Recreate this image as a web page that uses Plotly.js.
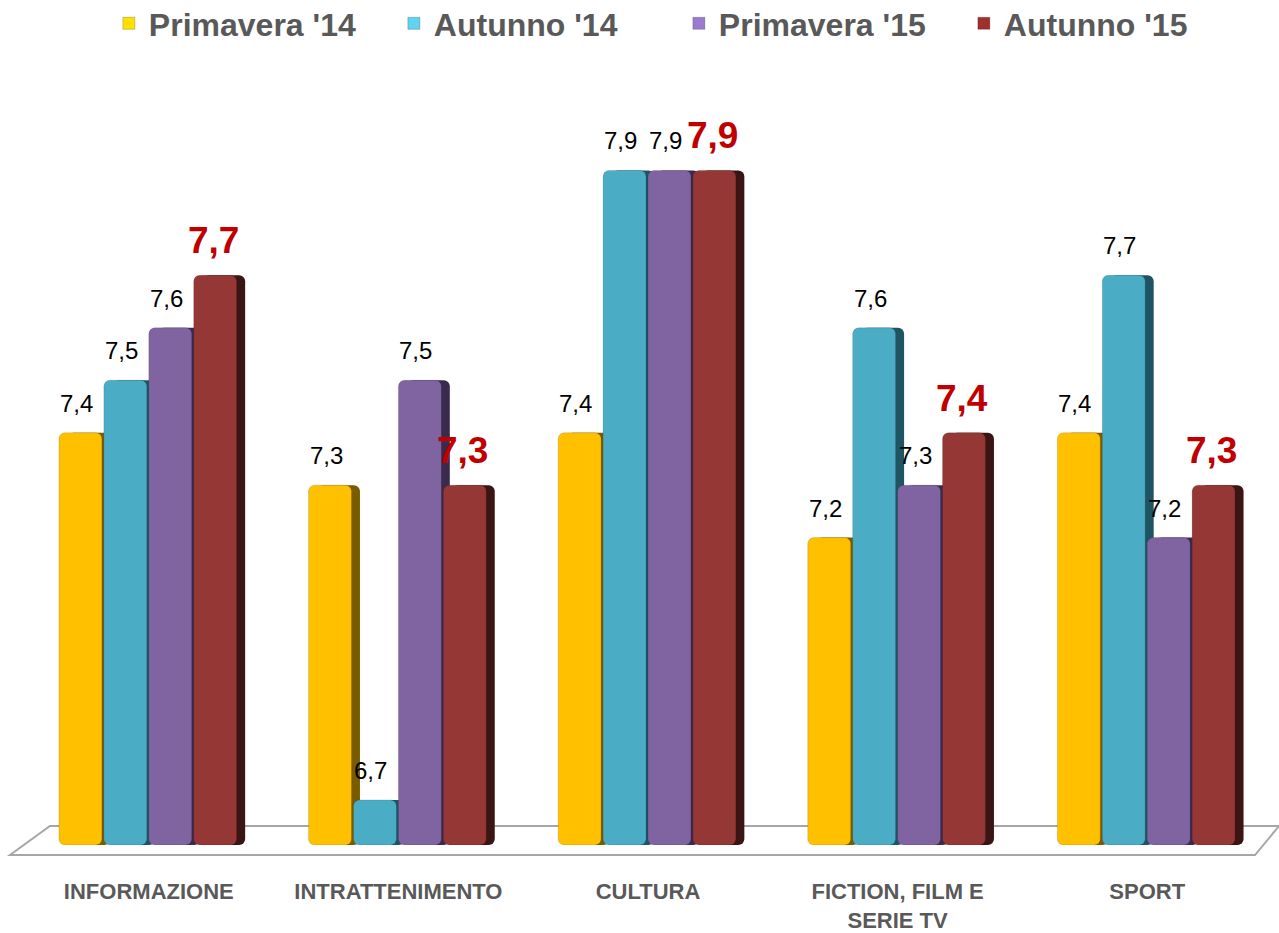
<!DOCTYPE html>
<html><head><meta charset="utf-8">
<script src="https://cdn.plot.ly/plotly-3.0.1.min.js"></script>
<style>html,body{margin:0;padding:0;background:#fff}#chart{width:1279px;height:933px}</style>
</head><body><div id="chart"></div>
<script>
const categories = ['INFORMAZIONE','INTRATTENIMENTO','CULTURA','FICTION, FILM E<br>SERIE TV','SPORT'];
const seriesNames = ["Primavera '14","Autunno '14","Primavera '15","Autunno '15"];
const primavera14 = [7.4, 7.3, 7.4, 7.2, 7.4];
const autunno14   = [7.5, 6.7, 7.9, 7.6, 7.7];
const primavera15 = [7.6, 7.5, 7.9, 7.3, 7.2];
const autunno15   = [7.7, 7.3, 7.9, 7.4, 7.3];
const seriesValues = [primavera14, autunno14, primavera15, autunno15];

const faceColors = ['#FFC000','#4BACC6','#8064A2','#953735'];
const sideColors = ['#7A5C00','#1F5563','#3A2B4E','#3A1514'];
const legendColors = ['#FFE000','#5FD3F0','#9B7BD0','#A0302E'];

const BASE = 6.614;
const W = 0.172, START = -0.36, STEP = 0.18, DEPTH = 0.034;
const FONT = 'Liberation Sans, Arial, sans-serif';
const traces = [];
// side faces (3D depth)
seriesValues.forEach((vals, i) => {
  traces.push({
    type:'bar', x:categories, y:vals.map(v=>v-BASE), base:BASE, width:W, offset:START+i*STEP+DEPTH,
    marker:{color:sideColors[i], cornerradius:6}, showlegend:false, hoverinfo:'skip'
  });
});
// front faces
seriesValues.forEach((vals, i) => {
  traces.push({
    type:'bar', name:seriesNames[i], x:categories, y:vals.map(v=>v-BASE), base:BASE,
    width:W, offset:START+i*STEP,
    marker:{color:faceColors[i], line:{color:'rgba(0,0,0,0.12)', width:1}, cornerradius:6},
    showlegend:false
  });
});
// legend-only entries
seriesNames.forEach((n, i) => {
  traces.push({type:'bar', name:n, x:[categories[0]], y:[null], marker:{color:legendColors[i], line:{color:'rgba(0,0,0,0.2)',width:1}}, showlegend:true});
});

// value labels
const annotations = [];
seriesValues.forEach((vals, s) => {
  const red = s === 3;
  vals.forEach((v, c) => {
    annotations.push({
      x: c + START + s*STEP + W/2, y: v, xref:'x', yref:'y',
      text: v.toFixed(1).replace('.', ','), showarrow:false,
      yanchor:'bottom', xanchor:'center', yshift: red ? 12 : 14, xshift: red ? -2 : -4,
      font: red ? {family:FONT, size:37, color:'#C00000', weight:'bold'}
                : {family:FONT, size:24, color:'#000000'}
    });
  });
});

const layout = {
  width:1279, height:933,
  margin:{l:24, r:7, t:117.5, b:88, autoexpand:false},
  paper_bgcolor:'#ffffff', plot_bgcolor:'rgba(0,0,0,0)',
  barmode:'overlay',
  font:{family:FONT, color:'#595959'},
  showlegend:true,
  legend:{orientation:'h', x:0.068, xanchor:'left', y:1.13, yanchor:'middle',
          font:{size:32, color:'#595959', weight:'bold'}, itemwidth:30, tracegroupgap:0,
          entrywidth:240, entrywidthmode:'pixels'},
  xaxis:{type:'category', showgrid:false, zeroline:false, showline:false, ticks:'',
         tickfont:{size:22, color:'#595959', weight:'bold'}, ticklabelstandoff:31, fixedrange:true,
         range:[-0.5, 4.5]},
  yaxis:{range:[BASE, 8.0], visible:false, showgrid:false, zeroline:false, fixedrange:true},
  annotations: annotations,
  shapes:[{
    type:'path', xref:'paper', yref:'paper', layer:'below',
    path:'M 0.0208 0.0261 L 1.0056 0.0261 L 0.9864 -0.0138 L -0.0112 -0.0138 Z',
    line:{color:'#A6A6A6', width:2}, fillcolor:'#FFFFFF'
  }]
};
Plotly.newPlot('chart', traces, layout, {displayModeBar:false, staticPlot:true});
</script></body></html>
